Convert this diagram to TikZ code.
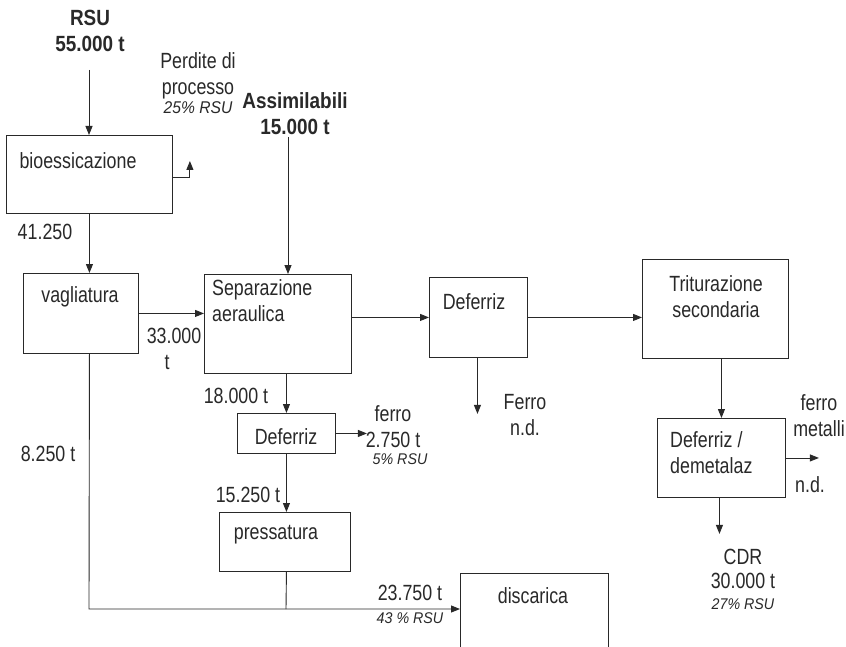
\documentclass[tikz,border=0pt]{standalone}
\usepackage{fontspec}
\setmainfont{Liberation Sans}[FakeStretch=0.81]
\newfontfamily\bfam{Liberation Sans}[FakeStretch=0.86]
\newfontfamily\ifam{Liberation Sans}[FakeStretch=0.92]
\usetikzlibrary{arrows.meta}
\definecolor{ink}{rgb}{0.16,0.16,0.16}
\tikzset{
  box/.style={draw=ink, line width=0.9pt, inner sep=0pt, anchor=north west, rectangle},
  txt/.style={text=ink, inner sep=0pt, font=\fontsize{22}{26}\selectfont, align=center},
  txl/.style={txt, align=left, anchor=north west},
  bld/.style={text=ink, inner sep=0pt, font=\bfam\bfseries\fontsize{22}{26}\selectfont, align=center},
  itl/.style={text=ink, inner sep=0pt, font=\ifam\itshape\fontsize{15.5}{18}\selectfont},
  arr/.style={draw=ink, line width=0.9pt, -{Triangle[length=9pt,width=7pt]}},
  ln/.style={draw=ink, line width=0.9pt}
}
\begin{document}
\begin{tikzpicture}[x=1pt,y=-1pt]
\useasboundingbox (0,0) rectangle (846,647);
\clip (0,0) rectangle (846,647);
\fill[white] (0,0) rectangle (846,647);

% boxes
\node[box, minimum width=166pt, minimum height=78pt] (bio) at (6,135) {};
\node[box, minimum width=115pt, minimum height=80pt] (vag) at (23,273) {};
\node[box, minimum width=147pt, minimum height=99pt] (sep) at (204,274) {};
\node[box, minimum width=98pt, minimum height=80pt] (def1) at (429,277) {};
\node[box, minimum width=146pt, minimum height=99pt] (trit) at (642,259) {};
\node[box, minimum width=98pt, minimum height=40pt] (def2) at (237,413) {};
\node[box, minimum width=131pt, minimum height=59pt] (press) at (219,512) {};
\node[box, minimum width=128pt, minimum height=79pt] (dem) at (657,418) {};
\node[box, minimum width=148pt, minimum height=110pt] (disc) at (460,573) {};

% box texts
\node[txt] (tbio) at (78,161) {bioessicazione};
\node[txt] (tvag) at (80,297) {vagliatura};
\node[txl] (tsep) at (212,279) {Separazione\\aeraulica};
\node[txt] (tdef1) at (474,302) {Deferriz};
\node[txt] (ttrit) at (716,297) {Triturazione\\secondaria};
\node[txt] (tdef2) at (286,437) {Deferriz};
\node[txt] (tpress) at (276,535) {pressatura};
\node[txl] (tdem) at (670,431) {Deferriz /\\demetalaz};
\node[txt] (tdisc) at (533,596) {discarica};

% inputs
\node[bld] (rsu) at (90,31) {RSU\\55.000 t};
\coordinate (rsuTop) at (89,70);
\node[bld] (assim) at (295,114) {Assimilabili\\15.000 t};
\coordinate (assimTop) at (288,137);

% labels
\node[txt] (perd) at (198,76) {Perdite di\\processo};
\node[itl, font=\ifam\itshape\fontsize{17}{20}\selectfont] (perdp) at (198,108) {25\% RSU};
\node[txt] (l41) at (45,232) {41.250};
\node[txt] (l33) at (174,336) {33.000};
\node[txt] (l33t) at (167,362) {t};
\node[txt] (l8) at (48,454) {8.250 t};
\node[txt] (l18) at (236,396) {18.000 t};
\node[txt] (l15) at (248,495) {15.250 t};
\node[txt] (ferro2) at (393,427) {ferro\\2.750 t};
\node[itl] (ferro2p) at (400,459) {5\% RSU};
\node[txt] (ferro1) at (525,415) {Ferro\\n.d.};
\node[txt] (l23) at (410,593) {23.750 t};
\node[itl] (l23p) at (410,618) {43 \% RSU};
\node[txt] (fm) at (819,416) {ferro\\metalli};
\node[txt] (fmnd) at (810,485) {n.d.};
\node[txt, font=\fontsize{22}{24}\selectfont] (cdr) at (743,569) {CDR\\30.000 t};
\node[itl] (cdrp) at (743,604) {27\% RSU};

% connectors
\draw[arr] (rsuTop) -- (rsuTop |- bio.north);
\draw[arr] (bio.east |- 0,177) -- ++(17,0) -- ++(0,-16);
\draw[arr] (bio.south) -- (bio.south |- vag.north);
\draw[arr] (vag.east) -- (vag.east -| sep.west);
\draw[arr] (assimTop) -- (assimTop |- sep.north);
\draw[arr] (def1.west -| sep.east) -- (def1.west);
\draw[arr] (def1.east) -- (def1.east -| trit.west);
\draw[arr] ([xshift=-1pt]def1.south) -- ++(0,56);
\draw[arr] ([xshift=6pt]trit.south) -- ([xshift=6pt]trit.south |- dem.north);
\draw[arr] (dem.east) -- ++(33,0);
\draw[arr] ([xshift=-2pt]dem.south) -- ++(0,36);
\draw[arr] (sep.south -| def2.north) -- (def2.north);
\draw[arr] (def2.east) -- ++(31,0);
\draw[arr] (def2.south) -- (def2.south |- press.north);
\coordinate (corner) at (89,609);
\coordinate (junc) at (286,609);
\draw[ln] (def2.south |- press.south) -- (junc);
\draw[arr] (bio.south |- vag.south) -- (corner) -- (corner -| disc.west);
\end{tikzpicture}
\end{document}
